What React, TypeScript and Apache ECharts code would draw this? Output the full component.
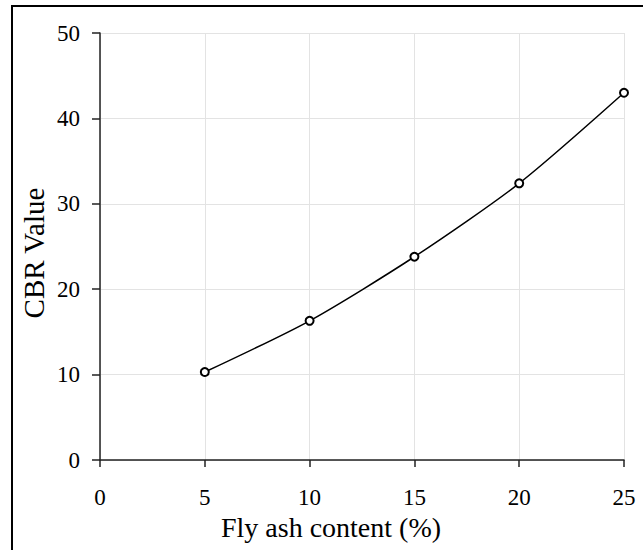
import React, { useEffect, useRef } from "react";
import * as echarts from "echarts";

const flyAsh = [5, 10, 15, 20, 25];
const cbr = [10.3, 16.3, 23.8, 32.4, 43.0];
const xTicks = [0, 5, 10, 15, 20, 25];
const yTicks = [0, 10, 20, 30, 40, 50];

const FONT = "'Liberation Serif', 'Times New Roman', serif";

export default function App() {
  const ref = useRef<HTMLDivElement>(null);
  useEffect(() => {
    if (!ref.current) return;
    const chart = echarts.init(ref.current, null, { renderer: "svg" });
    chart.setOption({
      animation: false,
      backgroundColor: "#ffffff",
      grid: { left: 100, right: 19, top: 33, bottom: 90, containLabel: false },
      xAxis: {
        type: "value",
        min: xTicks[0],
        max: xTicks[xTicks.length - 1],
        interval: 5,
        axisLine: { show: true, onZero: false, lineStyle: { color: "#222", width: 1.5 } },
        axisTick: { show: true, inside: false, length: 7, lineStyle: { color: "#222", width: 1.5 } },
        axisLabel: { color: "#000", fontFamily: FONT, fontSize: 23, margin: 26 },
        splitLine: { show: true, lineStyle: { color: "#e3e3e3", width: 1 } },
      },
      yAxis: {
        type: "value",
        min: yTicks[0],
        max: yTicks[yTicks.length - 1],
        interval: 10,
        axisLine: { show: true, lineStyle: { color: "#222", width: 1.5 } },
        axisTick: { show: true, inside: false, length: 8, lineStyle: { color: "#222", width: 1.5 } },
        axisLabel: { color: "#000", fontFamily: FONT, fontSize: 23, margin: 20 },
        splitLine: { show: true, lineStyle: { color: "#e3e3e3", width: 1 } },
      },
      series: [
        {
          type: "line",
          data: flyAsh.map((x, i) => [x, cbr[i]]),
          smooth: 0.25,
          symbol: "emptyCircle",
          symbolSize: 8,
          lineStyle: { color: "#000", width: 1.5 },
          itemStyle: { color: "#000", borderColor: "#000", borderWidth: 1.3 },
        },
      ],
      graphic: [
        {
          type: "rect",
          shape: { x: 12, y: 6, width: 700, height: 600 },
          style: { fill: "none", stroke: "#000", lineWidth: 2 },
          silent: true,
        },
        {
          type: "text",
          x: 331,
          y: 527,
          style: {
            text: "Fly ash content (%)",
            font: `28px ${FONT}`,
            fill: "#000",
            align: "center",
            verticalAlign: "middle",
          },
        },
        {
          type: "text",
          x: 34,
          y: 253,
          rotation: Math.PI / 2,
          style: {
            text: "CBR Value",
            font: `29px ${FONT}`,
            fill: "#000",
            align: "center",
            verticalAlign: "middle",
          },
        },
      ],
    });
    return () => chart.dispose();
  }, []);
  return <div ref={ref} style={{ width: 643, height: 550, position: "absolute", left: 0, top: 0 }} />;
}
